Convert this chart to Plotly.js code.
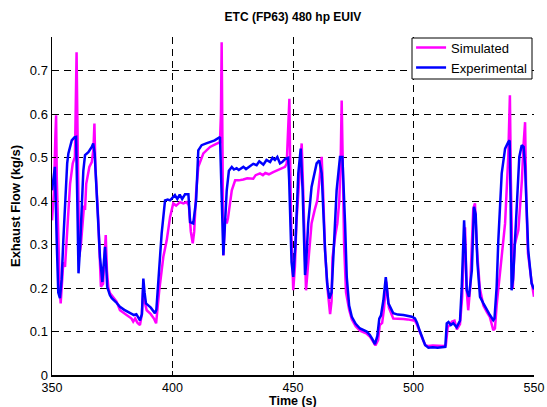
<!DOCTYPE html>
<html>
<head>
<meta charset="utf-8">
<script src="https://cdn.plot.ly/plotly-3.0.1.min.js"></script>
<style>html,body{margin:0;padding:0;background:#fff;}#chart{width:547px;height:407px;}</style>
</head>
<body>
<div id="chart"></div>
<script>
// Experimental (blue)
const expTime = [350,351.2,352.0,352.6,353.3,354.0,354.7,355.5,356.3,356.8,358.2,359.3,360.0,360.5,361.0,361.6,362.3,363.0,363.7,365.1,366.5,367.1,367.7,368.5,369.2,369.9,370.9,371.5,372.0,372.5,372.9,374.0,374.8,376.5,378.2,380.0,382.4,384.0,385.0,386.5,387.3,387.9,388.4,389.0,391.0,392.7,393.3,394.2,395.5,396.9,398.0,399.0,400.0,401.0,402.0,403.0,404.0,405.2,406.6,407.3,408.6,409.8,410.7,412.1,414.0,415.6,417.5,419.7,420.2,420.6,421.1,421.6,422.5,423.4,424.6,425.5,426.6,427.5,429.4,430.5,432.2,433.5,434.9,436.0,437.7,439.0,440.5,441.5,442.5,443.5,444.6,445.5,446.7,448.0,448.4,448.8,449.4,450.1,451.0,452.2,453.2,454.0,455.0,455.5,456.3,457.7,459.8,460.9,461.9,463.3,464.2,465.1,466.0,467.0,468.1,469.5,470.5,471.6,472.3,473.3,474.4,476.0,477.8,480.6,481.9,483.0,484.0,485.0,485.8,486.5,487.5,488.5,489.6,491.6,493.5,495.8,497.5,499.3,500.6,501.5,502.7,504.0,504.8,506.2,508.0,510.0,512.4,513.2,513.8,514.5,515.5,516.5,517.9,519.3,520.0,520.4,521.0,521.6,522.1,523.0,524.2,525.1,525.8,526.5,527.6,529.0,530.4,531.7,533.1,533.6,534.5,535.2,536.6,538.0,539.3,539.9,540.3,540.7,541.3,542.0,542.8,543.9,544.9,545.7,546.3,547.0,547.6,549.0,550.0];
const expFlow = [0.425,0.479,0.30,0.19,0.177,0.22,0.31,0.41,0.487,0.51,0.54,0.547,0.548,0.40,0.234,0.29,0.387,0.47,0.506,0.513,0.525,0.533,0.51,0.425,0.34,0.272,0.214,0.25,0.295,0.25,0.203,0.184,0.177,0.168,0.157,0.15,0.142,0.138,0.14,0.126,0.14,0.222,0.19,0.165,0.155,0.142,0.15,0.22,0.326,0.402,0.404,0.402,0.408,0.414,0.405,0.415,0.405,0.416,0.416,0.352,0.349,0.402,0.517,0.529,0.533,0.536,0.54,0.548,0.45,0.33,0.276,0.33,0.425,0.47,0.479,0.473,0.476,0.472,0.479,0.474,0.48,0.486,0.483,0.492,0.484,0.495,0.49,0.5,0.495,0.502,0.487,0.49,0.497,0.5,0.45,0.349,0.26,0.226,0.3,0.464,0.521,0.425,0.23,0.26,0.349,0.433,0.487,0.494,0.464,0.287,0.21,0.176,0.19,0.3,0.425,0.502,0.502,0.349,0.226,0.16,0.134,0.118,0.107,0.1,0.092,0.082,0.071,0.09,0.13,0.137,0.172,0.225,0.165,0.142,0.139,0.138,0.136,0.134,0.13,0.12,0.1,0.08,0.069,0.063,0.064,0.063,0.064,0.065,0.119,0.122,0.115,0.119,0.11,0.125,0.2,0.249,0.356,0.28,0.195,0.18,0.24,0.387,0.37,0.26,0.18,0.165,0.149,0.138,0.126,0.13,0.203,0.31,0.464,0.521,0.536,0.54,0.4,0.195,0.22,0.3,0.402,0.502,0.529,0.525,0.48,0.387,0.287,0.211,0.197];

// Simulated (magenta)
const simTime = [350,350.8,351.4,351.7,352.0,352.6,353.2,353.6,354.2,354.7,355.4,356.0,356.8,357.5,358.6,359.5,359.8,360.2,360.5,360.9,361.3,362.0,362.8,363.3,363.7,364.2,365.5,366.5,367.2,367.6,368.0,369.2,370.3,371.2,371.8,372.3,372.8,373.4,374.1,375.5,376.8,378.2,380.0,381.5,383.0,383.7,384.5,385.5,386.5,387.3,387.9,388.6,389.3,391.0,392.3,393.2,394.0,394.5,396.2,397.6,399.0,400.3,401.5,403.1,404.5,405.9,406.8,407.6,408.4,409.0,409.8,410.7,412.8,415.6,417.5,419.7,420.1,420.4,420.7,421.1,421.8,422.5,423.0,424.6,426.0,427.5,429.4,431.0,433.5,434.5,436.3,437.5,438.5,440.0,441.8,443.0,444.6,446.7,447.4,447.9,448.2,448.5,448.8,449.3,450.1,450.8,451.4,452.3,453.2,453.6,454.2,454.8,455.4,456.2,457.7,459.0,460.1,461.0,461.9,462.5,463.3,464.3,465.4,466.0,466.4,467.5,468.4,469.2,469.8,470.2,470.6,471.2,472.0,473.3,474.4,476.0,477.8,480.6,482.0,483.0,484.2,485.3,486.0,487.0,487.7,488.7,489.8,491.6,493.5,495.8,497.5,499.3,500.6,501.5,502.7,504.0,505.0,506.2,508.0,510.0,512.4,513.4,514.2,515.0,516.0,517.0,518.0,519.3,520.2,520.8,521.4,522.0,522.7,523.5,524.8,525.5,526.2,527.5,529.0,530.4,531.7,533.1,533.8,534.5,535.2,536.5,538.0,539.3,540.0,540.4,541.2,542.0,542.8,543.5,544.2,545.0,545.6,546.3,546.8,547.5,549.0,550.0];
const simFlow = [0.356,0.42,0.55,0.598,0.45,0.31,0.2,0.165,0.21,0.26,0.249,0.3,0.387,0.44,0.487,0.502,0.6,0.743,0.6,0.42,0.272,0.3,0.36,0.39,0.38,0.44,0.479,0.49,0.52,0.579,0.48,0.356,0.203,0.21,0.27,0.322,0.24,0.2,0.188,0.178,0.169,0.149,0.142,0.135,0.13,0.123,0.13,0.12,0.115,0.14,0.203,0.165,0.149,0.14,0.13,0.119,0.17,0.195,0.272,0.31,0.364,0.395,0.39,0.398,0.395,0.398,0.39,0.33,0.303,0.33,0.42,0.479,0.51,0.525,0.53,0.536,0.6,0.766,0.55,0.275,0.36,0.349,0.36,0.425,0.448,0.448,0.45,0.453,0.452,0.46,0.464,0.46,0.465,0.462,0.467,0.47,0.475,0.479,0.487,0.55,0.6,0.636,0.5,0.33,0.195,0.25,0.35,0.42,0.5,0.533,0.43,0.3,0.195,0.25,0.349,0.38,0.402,0.45,0.502,0.42,0.287,0.2,0.14,0.17,0.27,0.32,0.349,0.4,0.5,0.632,0.45,0.3,0.19,0.15,0.128,0.112,0.102,0.095,0.088,0.078,0.068,0.08,0.115,0.12,0.15,0.215,0.155,0.13,0.13,0.129,0.128,0.127,0.125,0.115,0.097,0.08,0.068,0.067,0.068,0.067,0.067,0.068,0.11,0.115,0.123,0.125,0.105,0.117,0.18,0.28,0.34,0.2,0.149,0.2,0.383,0.395,0.3,0.2,0.16,0.145,0.133,0.103,0.107,0.16,0.2,0.28,0.349,0.5,0.644,0.45,0.2,0.3,0.32,0.333,0.387,0.45,0.525,0.582,0.4,0.28,0.215,0.18];

const xTicks = [350,400,450,500,550];
const yTicks = [0,0.1,0.2,0.3,0.4,0.5,0.6,0.7];

const FONT = 'Liberation Sans, Arial, sans-serif';

const traces = [
  {x: simTime, y: simFlow, type: 'scatter', mode: 'lines', name: 'Simulated',
   line: {color: '#ff00ff', width: 2.5}},
  {x: expTime, y: expFlow, type: 'scatter', mode: 'lines', name: 'Experimental',
   line: {color: '#0000ff', width: 2.5}}
];

const layout = {
  width: 547, height: 407,
  margin: {l: 52, r: 13, t: 37, b: 32},
  paper_bgcolor: '#fff', plot_bgcolor: '#fff',
  font: {family: FONT, size: 13, color: '#000'},
  title: {text: '<b>ETC (FP63) 480 hp EUIV</b>', font: {family: FONT, size: 12, color: '#000'},
          x: 0.5356, xanchor: 'center', y: 0.958, yanchor: 'middle'},
  showlegend: true,
  legend: {x: 0.996, xanchor: 'right', y: 1.013, yanchor: 'top',
           bgcolor: 'rgba(0,0,0,0)', borderwidth: 0,
           font: {family: FONT, size: 13, color: '#000'},
           tracegroupgap: 0, itemwidth: 30},
  shapes: [
    {type: 'rect', xref: 'paper', yref: 'paper', layer: 'above',
     x0: (412 - 52) / 482, x1: (532 - 52) / 482,
     y0: (375 - 79) / 338, y1: (375 - 38) / 338,
     fillcolor: '#fff', line: {color: '#000', width: 1}}
  ],
  annotations: [
    {text: '<b>Time (s)</b>', xref: 'paper', yref: 'paper', x: 0.5, y: (375 - 401) / 338,
     xanchor: 'center', yanchor: 'middle', showarrow: false, borderpad: 0,
     font: {family: FONT, size: 12.5, color: '#000'}}
  ],
  xaxis: {
    range: [350, 550], tickvals: xTicks, ticktext: xTicks.map(String),
    showline: true, linecolor: '#000', linewidth: 1.5,
    ticks: 'inside', ticklen: 4, tickcolor: '#000', ticklabelstandoff: 0,
    showgrid: true, gridcolor: '#000', gridwidth: 1, griddash: '7px,5px',
    zeroline: false, tickfont: {family: FONT, size: 12.5, color: '#000'}
  },
  yaxis: {
    range: [0, 0.778], tickvals: yTicks, ticktext: yTicks.map(String),
    showline: true, linecolor: '#000', linewidth: 1.5,
    ticks: 'inside', ticklen: 4, tickcolor: '#000',
    showgrid: true, gridcolor: '#000', gridwidth: 1, griddash: '7px,5px',
    zeroline: false, tickfont: {family: FONT, size: 13, color: '#000'},
    title: {text: '<b>Exhaust Flow (kg/s)</b>', font: {family: FONT, size: 13, color: '#000'}, standoff: 6}
  }
};

Plotly.newPlot('chart', traces, layout, {staticPlot: true, displayModeBar: false});
</script>
</body>
</html>
